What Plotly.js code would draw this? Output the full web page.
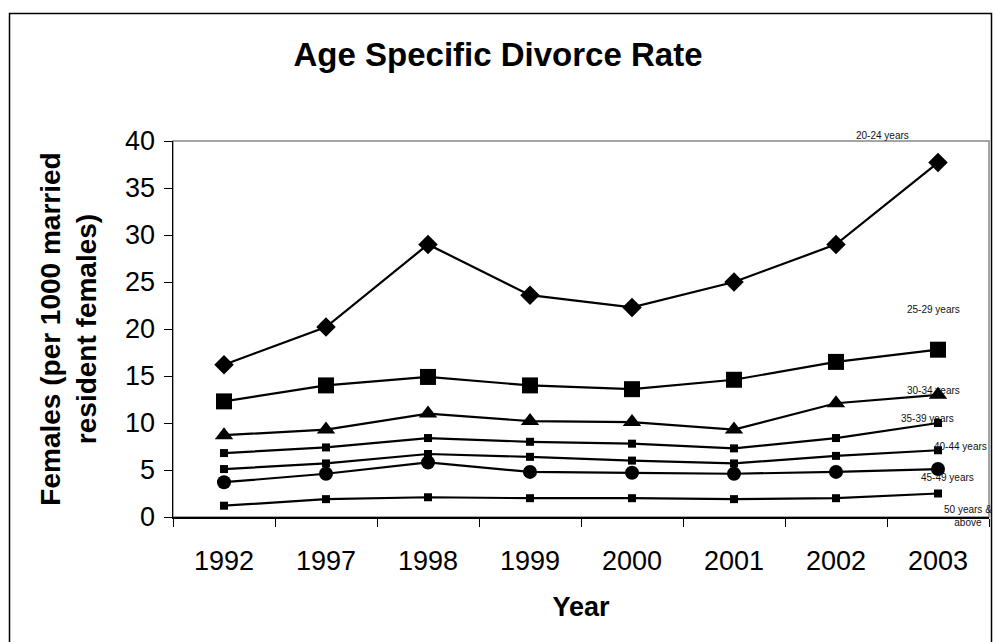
<!DOCTYPE html>
<html>
<head>
<meta charset="utf-8">
<script src="https://cdn.plot.ly/plotly-3.0.1.min.js"></script>
<style>
html,body{margin:0;padding:0;background:#fff;}
#chart{width:994px;height:642px;}
</style>
</head>
<body>
<div id="chart"></div>
<script>
// ---- data ----
var years = ['1992','1997','1998','1999','2000','2001','2002','2003'];
var seriesNames = ['20-24 years','25-29 years','30-34 years','35-39 years','40-44 years','45-49 years','50 years &<br>above'];
var age20_24 = [16.2, 20.2, 29.0, 23.6, 22.3, 25.0, 29.0, 37.7];
var age25_29 = [12.3, 14.0, 14.9, 14.0, 13.6, 14.6, 16.5, 17.8];
var age30_34 = [8.7, 9.3, 11.0, 10.2, 10.1, 9.3, 12.1, 13.0];
var age35_39 = [6.8, 7.4, 8.4, 8.0, 7.8, 7.3, 8.4, 10.0];
var age40_44 = [5.1, 5.7, 6.7, 6.4, 6.0, 5.7, 6.5, 7.1];
var age45_49 = [3.7, 4.6, 5.8, 4.8, 4.7, 4.6, 4.8, 5.1];
var age50up  = [1.2, 1.9, 2.1, 2.0, 2.0, 1.9, 2.0, 2.5];

var values = [age20_24, age25_29, age30_34, age35_39, age40_44, age45_49, age50up];
var symbols = ['diamond','square','triangle-up','square','square','circle','square'];
var sizes = [15, 16, 16, 8, 8, 14, 8];

var FONT = 'Liberation Sans, Arial, Helvetica, sans-serif';

var traces = values.map(function(v, i){
  return {
    type: 'scatter', mode: 'lines+markers',
    x: years, y: v, name: seriesNames[i],
    line: {color: '#000', width: 2.2},
    marker: {symbol: symbols[i], size: sizes[i], color: '#000', line: {width: 0}},
    showlegend: false, cliponaxis: false
  };
});

// plot box in pixels: x 173..989, y 141..517
var L = 173, R = 989, T = 141, B = 517;
function px(x){ return (x - L) / (R - L); }
function py(y){ return (B - y) / (B - T); }

var labelPos = [[882.5,135.7],[933,309],[933,390],[927,418.3],[960,446],[947,477.7],[968,516]];
var annotations = seriesNames.map(function(n, i){
  return {
    xref: 'paper', yref: 'paper', x: px(labelPos[i][0]), y: py(labelPos[i][1]),
    text: n, showarrow: false, xanchor: 'center', yanchor: 'middle',
    font: {family: FONT, size: 10, color: '#111'}
  };
});

var layout = {
  width: 994, height: 642,
  margin: {l: L, r: 994 - R, t: T, b: 642 - B, pad: 0},
  paper_bgcolor: '#fff', plot_bgcolor: '#fff',
  font: {family: FONT, color: '#000'},
  title: {
    text: 'Age Specific Divorce Rate',
    font: {family: FONT, size: 33, weight: 700, color: '#000'},
    x: 498/994, xref: 'container', xanchor: 'center',
    y: 1 - 54/642, yref: 'container', yanchor: 'middle'
  },
  xaxis: {
    type: 'category', range: [-0.5, 7.5],
    tickson: 'boundaries', ticks: 'outside', ticklen: 8, tickcolor: '#000', tickwidth: 1,
    showline: true, linecolor: '#000', linewidth: 1.5,
    showgrid: false, zeroline: false,
    tickfont: {family: FONT, size: 27, color: '#000'},
    ticklabelstandoff: 19,
    title: {text: 'Year', font: {family: FONT, size: 27, weight: 700, color: '#000'}, standoff: 22}
  },
  yaxis: {
    range: [0, 40], dtick: 5, tick0: 0,
    ticks: 'outside', ticklen: 8, tickcolor: '#000', tickwidth: 1,
    showline: true, linecolor: '#000', linewidth: 1.5,
    showgrid: false, zeroline: false,
    tickfont: {family: FONT, size: 27, color: '#000'},
    ticklabelstandoff: 3,
    title: {text: 'Females (per 1000 married<br>resident females)', font: {family: FONT, size: 28, weight: 700, color: '#000'}, standoff: 20}
  },
  shapes: [
    {type: 'rect', xref: 'paper', yref: 'paper', x0: 0, x1: 1, y0: 0, y1: 1,
     line: {color: '#888', width: 1.5}, layer: 'below'},
    {type: 'rect', xref: 'paper', yref: 'paper',
     x0: px(9.5), x1: px(991.5), y0: py(660), y1: py(13.5),
     line: {color: '#000', width: 1.5}, layer: 'below'}
  ],
  annotations: annotations
};

Plotly.newPlot('chart', traces, layout, {displayModeBar: false, staticPlot: true});
</script>
</body>
</html>
